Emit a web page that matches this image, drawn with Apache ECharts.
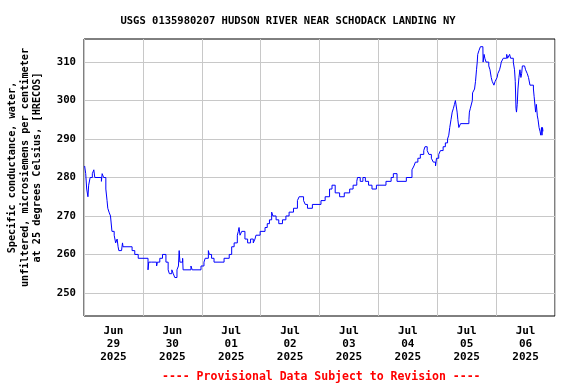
<!DOCTYPE html>
<html>
<head>
<meta charset="utf-8">
<script src="https://cdn.jsdelivr.net/npm/echarts@6/dist/echarts.min.js"></script>
<style>html,body{margin:0;padding:0;background:#fff}#c{width:576px;height:384px}</style>
</head>
<body>
<div id="c"></div>
<script>
// Hours since 2025-06-29 00:00 and specific conductance values
var hours = [0.25,0.7,1.1,1.6,1.9,2.5,3.4,4.0,4.4,7.1,7.4,8.0,8.9,9.4,9.7,10.2,10.8,11.4,12.3,12.9,13.5,13.9,14.2,15.3,15.7,15.9,19.6,20.7,22.1,26.1,26.4,27.5,29.6,29.9,30.9,32.0,33.4,34.3,34.8,35.8,36.4,37.0,37.3,37.9,38.5,38.8,39.1,40.2,40.4,43.6,44.1,47.7,48.9,49.4,50.7,51.1,52.0,53.0,57.1,59.2,60.2,61.2,62.5,62.9,63.2,63.6,64.3,65.6,66.7,67.9,69.0,69.7,70.1,71.8,73.8,74.7,75.6,76.5,77.0,78.3,79.4,80.9,82.3,83.6,85.4,87.0,87.7,89.5,90.2,91.1,93.1,96.6,98.3,100.1,101.1,102.4,104.2,106.1,108.3,109.7,111.2,111.5,112.6,113.7,114.7,116.0,117.4,119.2,123.1,125.2,126.1,127.6,131.4,133.7,134.5,135.1,136.1,137.1,138.5,139.0,139.9,140.6,141.6,142.4,143.3,143.7,144.6,145.3,146.4,147.3,148.2,148.7,149.1,149.6,150.1,150.6,151.0,151.4,152.1,152.4,152.8,153.5,156.9,157.1,157.5,158.3,158.4,159.2,159.6,160.0,160.3,160.5,161.0,161.6,162.6,162.7,163.1,163.4,163.9,165.0,165.5,166.0,166.4,167.1,167.6,168.4,168.7,169.4,169.8,170.1,170.9,171.2,172.3,172.7,173.5,173.9,175.0,175.5,175.8,176.1,176.3,176.6,176.9,177.3,177.7,178.1,178.4,178.7,179.6,180.0,180.7,181.2,181.8,182.5,183.2,183.5,184.1,184.4,184.8,185.1,185.5,185.9,186.2,186.5,186.7,186.9,187.1];
var values = [283,281,277,275,278,280,281,282,280,279,281,280,277,274,272,271,270,266,265,263,264,262,261,261,263,262,261,260,259,256,258,258,257,258,259,260,258,256,255,256,255,254,254,256,257,261,258,259,256,257,256,257,258,259,261,260,259,258,259,260,262,263,265,266,267,265,266,264,263,264,263,264,265,266,267,268,269,271,270,269,268,269,270,271,272,274,275,274,273,272,273,274,275,277,278,276,275,276,277,278,279,280,279,280,279,278,277,278,279,280,281,279,280,282,283,284,285,286,287,288,287,286,285,284,283,285,286,287,288,289,290,291,293,295,297,298,299,300,297,295,293,294,295,297,298,300,302,303,305,308,310,312,313,314,314,310,312,311,310,309,308,306,305,304,305,306,307,308,309,310,311,311,312,311,312,311,310,308,305,298,297,299,303,306,308,306,307,309,309,308,307,306,304,304,303,301,297,299,296,295,293,292,291,293,291,293,292];
var dayLabels = ['Jun\n29\n2025','Jun\n30\n2025','Jul\n01\n2025','Jul\n02\n2025','Jul\n03\n2025','Jul\n04\n2025','Jul\n05\n2025','Jul\n06\n2025'];
var yTicks = [250,260,270,280,290,300,310];
var labelHours = [12,36,60,84,108,132,156,180];

var MONO = '"DejaVu Sans Mono", "Liberation Mono", monospace';
var data = hours.map(function(h,i){return [h, values[i]];});

var chart = echarts.init(document.getElementById('c'), null, {renderer:'canvas'});
chart.setOption({
  animation: false,
  backgroundColor: '#fff',
  title: [{
    text: 'USGS 0135980207 HUDSON RIVER NEAR SCHODACK LANDING NY',
    left: 'center', top: 11,
    textStyle: {fontFamily: MONO, fontSize: 10.5, fontWeight: 'bold', color: '#000'}
  },{
    text: '---- Provisional Data Subject to Revision ----',
    left: 157, top: 366,
    textStyle: {fontFamily: MONO, fontSize: 11.5, fontWeight: 'bold', color: '#ff0000'}
  }],
  grid: {left: 84, right: 21, top: 39, bottom: 68, outerBoundsMode: 'none', containLabel: false,
         show: true, borderColor: '#000', borderWidth: 1, backgroundColor: 'transparent'},
  xAxis: {
    type: 'value', min: 0, max: 192, interval: 24,
    axisLine: {show: false}, axisTick: {show: false},
    splitLine: {show: true, lineStyle: {color: '#c8c8c8', width: 1}},
    axisLabel: {
      customValues: labelHours,
      margin: 9,
      fontFamily: MONO, fontSize: 11, fontWeight: 'bold', color: '#000', lineHeight: 12.7,
      formatter: function(v){ var d = Math.floor(v/24); return dayLabels[d] || ''; }
    }
  },
  yAxis: {
    type: 'value', min: 244, max: 316, splitNumber: 7,
    name: 'Specific conductance, water,\nunfiltered, microsiemens per centimeter\nat 25 degrees Celsius, [HRECOS]',
    nameLocation: 'middle', nameRotate: 90, nameGap: 40,
    nameTextStyle: {fontFamily: MONO, fontSize: 10.2, fontWeight: 'bold', color: '#000', lineHeight: 12.5, align: 'center', padding: [0,0,0,20]},
    axisLine: {show: false},
    axisTick: {show: false, customValues: yTicks},
    splitLine: {show: true, lineStyle: {color: '#c8c8c8', width: 1}},
    axisLabel: {
      customValues: yTicks,
      margin: 8,
      fontFamily: MONO, fontSize: 10.7, fontWeight: 'bold', color: '#000',
      formatter: function(v){ return (v % 10 === 0) ? String(v) : ''; }
    }
  },
  series: [{
    type: 'line', data: data, step: 'end', showSymbol: false, symbol: 'none',
    lineStyle: {color: '#0000ff', width: 1}, z: 3
  }]
});
</script>
</body>
</html>
